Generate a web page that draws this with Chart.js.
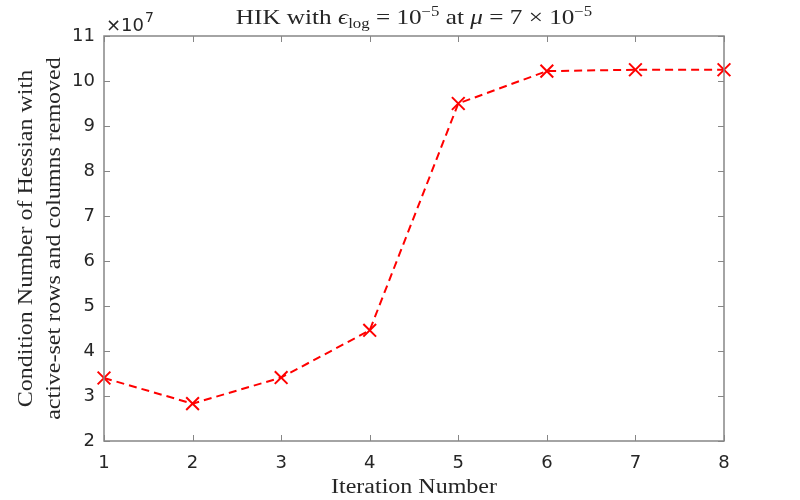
<!DOCTYPE html>
<html>
<head>
<meta charset="utf-8">
<script src="https://cdn.jsdelivr.net/npm/chart.js"></script>
<style>body{margin:0;background:#fff}</style>
</head>
<body>
<canvas id="chart" width="800" height="500"></canvas>
<script>
// values (condition number, x 1e7)
const iterations = [1, 2, 3, 4, 5, 6, 7, 8];
const condNumbers = [3.40, 2.83, 3.41, 4.46, 9.50, 10.22, 10.25, 10.25];
const yTicks = [2, 3, 4, 5, 6, 7, 8, 9, 10, 11];
const xTicks = [1, 2, 3, 4, 5, 6, 7, 8];
const yExponent = 7;
const yTitleLines = ['Condition Number of Hessian with', 'active-set rows and columns removed'];
const xTitle = 'Iteration Number';

const scaleFactor = Math.pow(10, yExponent);
const points = iterations.map((it, i) => ({x: it, y: condNumbers[i] * scaleFactor}));

const SERIF = '"Liberation Serif", "DejaVu Serif", serif';
const SANS = '"DejaVu Sans", sans-serif';
const AXIS = '#868686';
const STRETCH = 1.2; // latex fonts run wider than Times

// draws a row of text pieces {t, font, dy} centred on cx, stretched horizontally
function richText(ctx, parts, cx, y) {
  let w = 0;
  parts.forEach(p => { ctx.font = p.font; w += ctx.measureText(p.t).width; });
  ctx.save();
  ctx.translate(cx, y);
  ctx.scale(STRETCH, 1);
  let x = -w / 2;
  ctx.textAlign = 'left';
  parts.forEach(p => {
    ctx.font = p.font;
    ctx.fillText(p.t, x, p.dy || 0);
    x += ctx.measureText(p.t).width;
  });
  ctx.restore();
}

function stretchedText(ctx, t, x, y) {
  ctx.save();
  ctx.translate(x, y);
  ctx.scale(STRETCH, 1);
  ctx.textAlign = 'center';
  ctx.fillText(t, 0, 0);
  ctx.restore();
}

const matlabLook = {
  id: 'matlabLook',
  afterDraw(chart) {
    const ctx = chart.ctx;
    const a = chart.chartArea;
    const xs = chart.scales.x, ys = chart.scales.y;
    ctx.save();
    // box
    ctx.strokeStyle = AXIS;
    ctx.lineWidth = 1.5;
    ctx.strokeRect(a.left, a.top, a.right - a.left, a.bottom - a.top);
    // inward ticks on all four sides
    ctx.lineWidth = 1;
    ctx.beginPath();
    xTicks.forEach(v => {
      const px = Math.round(xs.getPixelForValue(v)) + 0.5;
      ctx.moveTo(px, a.bottom); ctx.lineTo(px, a.bottom - 6);
      ctx.moveTo(px, a.top); ctx.lineTo(px, a.top + 6);
    });
    yTicks.forEach(v => {
      const py = Math.round(ys.getPixelForValue(v * scaleFactor)) + 0.5;
      ctx.moveTo(a.left, py); ctx.lineTo(a.left + 6, py);
      ctx.moveTo(a.right, py); ctx.lineTo(a.right - 6, py);
    });
    ctx.stroke();

    ctx.fillStyle = '#262626';
    ctx.textBaseline = 'alphabetic';
    const cx = (a.left + a.right) / 2;
    // title
    const f = '21px ' + SERIF, fs = '14px ' + SERIF;
    const fi = 'italic 21px ' + SERIF;
    richText(ctx, [
      {t: 'HIK with ', font: f},
      {t: 'ϵ', font: fi},
      {t: 'log', font: fs, dy: 4},
      {t: ' = 10', font: f},
      {t: '−5', font: fs, dy: -8},
      {t: ' at ', font: f},
      {t: 'μ', font: fi},
      {t: ' = 7 × 10', font: f},
      {t: '−5', font: fs, dy: -8}
    ], cx, 24);
    // exponent label
    ctx.textAlign = 'left';
    ctx.font = '18px ' + SANS;
    ctx.fillText('×10', a.left + 2, 31);
    const w = ctx.measureText('×10').width;
    ctx.font = '14px ' + SANS;
    ctx.fillText(String(yExponent), a.left + 3 + w, 22);
    // x title
    ctx.font = '20px ' + SERIF;
    stretchedText(ctx, xTitle, cx, 493);
    // y title
    ctx.translate(0, (a.top + a.bottom) / 2);
    ctx.rotate(-Math.PI / 2);
    stretchedText(ctx, yTitleLines[0], 0, 32);
    stretchedText(ctx, yTitleLines[1], 0, 60);
    ctx.restore();
  }
};

new Chart(document.getElementById('chart'), {
  type: 'line',
  data: {
    datasets: [{
      data: points,
      borderColor: '#ff0000',
      borderWidth: 2,
      borderDash: [8, 5],
      pointStyle: 'crossRot',
      pointRadius: 9,
      pointBorderColor: '#ff0000',
      pointBorderWidth: 2,
      tension: 0,
      fill: false,
      clip: false
    }]
  },
  options: {
    responsive: false,
    animation: false,
    layout: {padding: {top: 36, right: 76, left: 0, bottom: 0}},
    plugins: {legend: {display: false}, tooltip: {enabled: false}},
    scales: {
      x: {
        type: 'linear',
        min: 1, max: 8,
        afterBuildTicks: s => { s.ticks = xTicks.map(v => ({value: v})); },
        afterFit: s => { s.height = 59; },
        grid: {display: false, drawTicks: false},
        border: {display: false},
        ticks: {font: {family: SANS, size: 18}, color: '#262626', padding: 12, maxRotation: 0}
      },
      y: {
        min: yTicks[0] * scaleFactor, max: yTicks[yTicks.length - 1] * scaleFactor,
        afterBuildTicks: s => { s.ticks = yTicks.map(v => ({value: v * scaleFactor})); },
        afterFit: s => { s.width = 104; },
        grid: {display: false, drawTicks: false},
        border: {display: false},
        ticks: {font: {family: SANS, size: 18}, color: '#262626', padding: 9,
          callback: v => String(Math.round(v / scaleFactor))}
      }
    }
  },
  plugins: [matlabLook]
});
</script>
</body>
</html>
